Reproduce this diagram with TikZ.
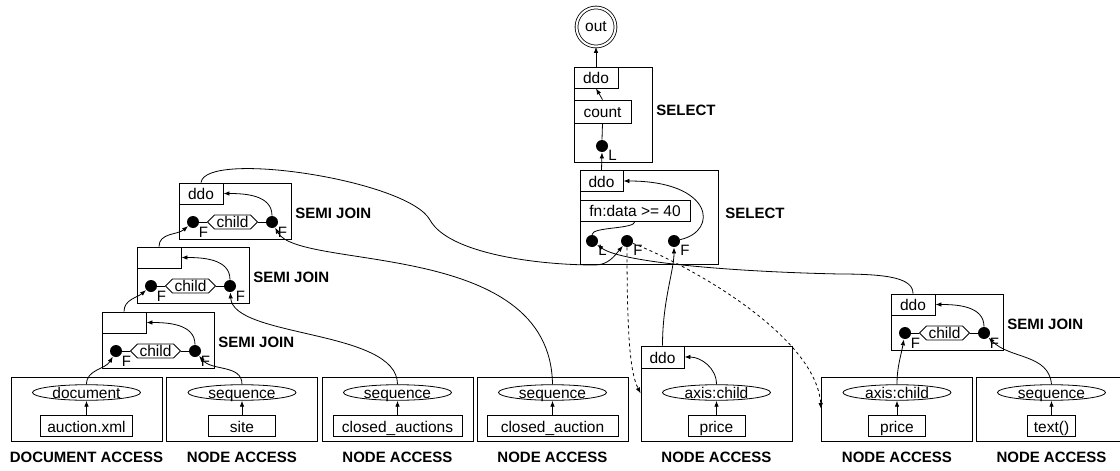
\documentclass[tikz,border=0pt]{standalone}
\usepackage{fontspec}
\setmainfont{Liberation Sans}
\usetikzlibrary{shapes.geometric,shapes.symbols,arrows.meta}

\tikzset{
  grp/.style={draw, minimum width=151pt, inner sep=0pt},
  opbox/.style={draw, minimum height=21pt, inner xsep=6pt, inner ysep=0pt, text height=12.5pt, text depth=0pt},
  acc/.style={draw, ellipse, minimum width=108pt, minimum height=15pt, inner sep=0pt, text height=11pt, text depth=0pt},
  port/.style={circle, fill, inner sep=0pt, minimum size=12pt},
  hx/.style={draw, signal, signal to=west and east, minimum width=50pt, minimum height=14pt, inner sep=0pt, text height=11pt, text depth=0pt},
  tag/.style={font=\fontsize{15}{17}\selectfont, inner sep=0.5pt},
  opname/.style={font=\fontsize{15}{18}\selectfont\bfseries, inner sep=0pt}
}

\begin{document}
\begin{tikzpicture}[x=1pt, y=1pt, line width=0.8pt, >={Latex[length=6pt,width=4.5pt]}, font=\fontsize{15.5}{18}\selectfont]
\useasboundingbox (0,0) rectangle (1120,-471);

% access boxes along the bottom
\foreach \n/\bx/\by/\ev/\tv/\wv/\lv in {
  1/86.5/377/document/auction.xml/92/DOCUMENT ACCESS,
  2/242/377/sequence/site/67/NODE ACCESS,
  3/397.5/377/sequence/closed\_auctions/129/NODE ACCESS,
  4/552.5/377/sequence/closed\_auction/131/NODE ACCESS,
  5/716.5/346/axis:child/price/57/NODE ACCESS,
  6/897/377/axis:child/price/57/NODE ACCESS,
  7/1051.5/377/sequence/text()/48/NODE ACCESS}{
  \node[grp, minimum height={441-\by}] (bx\n) at (\bx,{-(441+\by)/2}) {};
  \node[acc] (el\n) at (\bx,-392.5) {\ev};
  \node[opbox, minimum width=\wv] (tx\n) at (\bx,-426) {\tv};
  \node[opname] (lb\n) at (\bx,-457) {\lv};
  \draw[->] (tx\n) -- (el\n);
}
\node[opbox, minimum width=43pt, minimum height=22pt] (bxop5) at (662.5,-357) {ddo};
\draw[->] (el5.north) to[out=90,in=0] (bxop5.east);

% semi joins
\foreach \n/\sx/\sy/\op in {1/102/312/{},2/137/247/{},3/179/183/ddo,4/891/294/ddo}{
  \node[grp, minimum width=112pt, minimum height=56pt] (sj\n) at ({\sx+56},{-\sy-28}) {};
  \node[opbox, minimum width=44pt] (sjop\n) at ({\sx+22},{-\sy-10.5}) {\op};
  \node[port, label={[tag, label distance=0pt]-40:F}] (sjl\n) at ({\sx+14},{-\sy-39}) {};
  \node[port, label={[tag, label distance=0pt]-40:F}] (sjr\n) at ({\sx+93},{-\sy-39}) {};
  \node[hx] (sjhx\n) at ({\sx+53.5},{-\sy-39}) {child};
  \node[opname, anchor=west] (sjname\n) at ({\sx+116},{-\sy-30}) {SEMI JOIN};
  \draw (sjl\n) -- (sjhx\n.west);
  \draw (sjhx\n.east) -- (sjr\n);
  \draw[->] (sjr\n.north) to[out=90,in=0] (sjop\n.east);
}

% selects
\node[grp, minimum width=138pt, minimum height=94pt] (sel1) at (649,-217) {};
\node[opbox, minimum width=43pt] (sel1ddo) at (601.5,-181) {ddo};
\node[opbox, minimum width=110pt] (sel1fn) at (635,-210.5) {fn:data >= 40};
\node[port, label={[tag, label distance=0pt]-30:L}] (sel1l) at (592,-241) {};
\node[port, label={[tag, label distance=0pt]-30:F}] (sel1f) at (627,-241) {};
\node[port, label={[tag, label distance=0pt]-30:F}] (sel1r) at (674,-241) {};
\node[opname, anchor=west] (sel1name) at (725,-213) {SELECT};

\node[grp, minimum width=78pt, minimum height=95pt] (sel2) at (613,-114.5) {};
\node[opbox, minimum width=44pt] (sel2ddo) at (596,-77.5) {ddo};
\node[opbox, minimum width=57pt, minimum height=23pt] (sel2cnt) at (602.5,-111.5) {count};
\node[port, label={[tag, label distance=0pt]-30:L}] (sel2l) at (602,-146) {};
\node[opname, anchor=west] (sel2name) at (656,-110) {SELECT};
\node[circle, draw, double, double distance=2pt, minimum size=39pt, inner sep=0pt] (out) at (596,-27) {out};

\draw (sel2l.north) -- (sel2cnt.south);
\draw[->] (sel2cnt.north) -- (sel2ddo.south);
\draw[->] (sel2ddo.north) -- (out.south);
\draw[->] (sel1ddo.north) -- (sel2l.south);
\draw (sel1fn.south) .. controls +(0,-8) and +(0,8) .. (sel1l.north);
\draw[->] (sel1r) .. controls +(45,10) and +(90,0) .. (sel1ddo.east);
\draw[->] (bxop5.north) .. controls +(0,45) and +(0,-30) .. (sel1r);

% inputs of the joins
\draw[->] (el1.north) to[out=90,in=-120] (sjl1);
\draw[->] (el2.north) to[out=90,in=-50] (sjr1);
\draw[->] (el3.north) .. controls +(0,55) and +(3,-52) .. (sjr2);
\draw[->] (el4.north) .. controls +(-2,146) and +(27,-49) .. (sjr3);
\draw[->] (sjop1.north) to[out=90,in=-140] (sjl2);
\draw[->] (sjop2.north) to[out=90,in=-140] (sjl3);
\draw[->] (el6.north) to[out=90,in=-100] (sjl4);
\draw[->] (el7.north) to[out=95,in=-45] (sjr4);

% long ones into the select
\draw[->] (sjop3.north) .. controls +(4,33) and +(-22,40) .. (430,-220) .. controls +(18,-33) and +(-60,0) .. (595,-265) to[out=0,in=-130] (sel1f);
\draw[->] (sjop4.north) .. controls +(0,15) and +(50,0) .. (840,-274) .. controls +(-100,2) and +(30,-22) .. (sel1l);
\draw[->,dashed] (sel1f) .. controls +(0,-100) and +(-10,20) .. (bx5.west);
\draw[->,dashed] (sel1f) .. controls +(73,-29) and +(-5,70) .. (bx6.west);
\end{tikzpicture}
\end{document}
